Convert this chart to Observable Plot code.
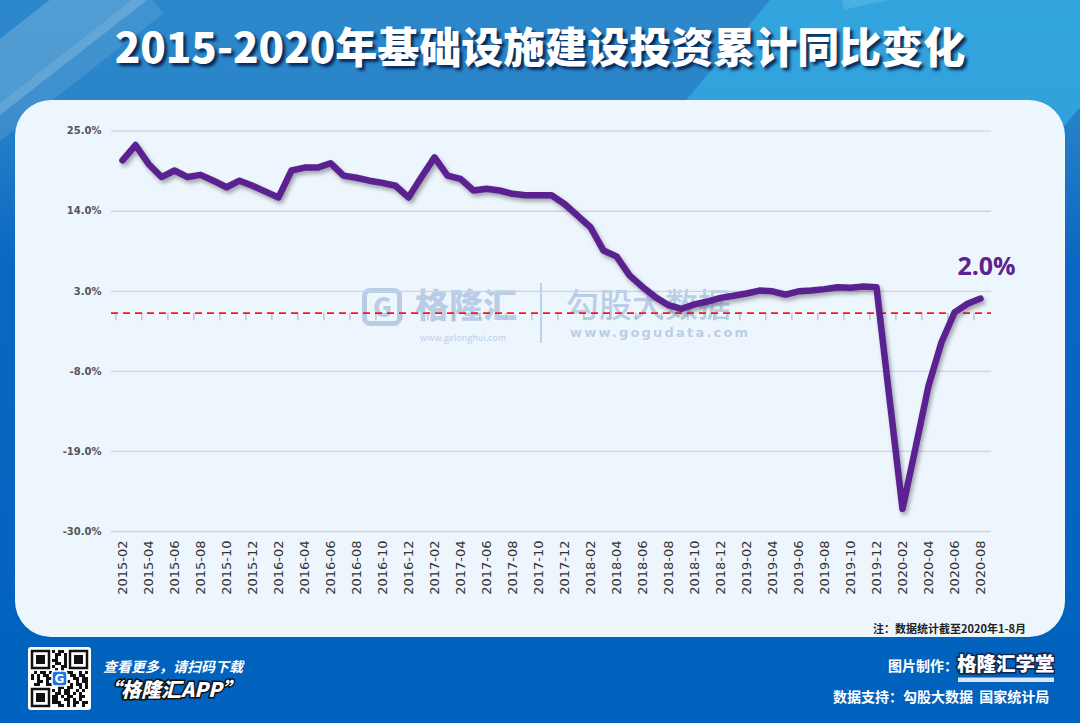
<!DOCTYPE html>
<html><head><meta charset="utf-8">
<script src="https://cdn.jsdelivr.net/npm/d3@7"></script>
<script src="https://cdn.jsdelivr.net/npm/@observablehq/plot@0.6"></script>
<style>
body{margin:0;width:1080px;height:723px;overflow:hidden;font-family:"Noto Sans CJK SC",sans-serif;}
#page{position:relative;width:1080px;height:723px;overflow:hidden;
 background:linear-gradient(to bottom,#2c88cb 0px,#2a84c9 100px,#0b67c1 260px,#0062be 723px);}
.stripe{position:absolute;transform-origin:0 0;}
#title{position:absolute;left:0;top:18px;width:1080px;text-align:center;color:#fff;font-size:42px;font-weight:900;line-height:1.3;
 text-shadow:3px 3px 3px rgba(0,25,70,0.85);}
#panel{position:absolute;left:15px;top:100px;width:1050px;height:537px;border-radius:36px;background:#eef6fd;}
#chart{position:absolute;left:20px;top:110px;}
#chart g[aria-label="line"] path{filter:drop-shadow(2px 3px 2px rgba(60,60,70,0.45));}
.wm{position:absolute;color:rgba(140,172,210,0.55);font-weight:900;white-space:nowrap;line-height:1;}
#note{position:absolute;right:54px;top:620px;font-size:11px;font-weight:bold;color:#222;}
.foot{position:absolute;color:#fff;font-weight:bold;white-space:nowrap;line-height:1.3;}
</style></head>
<body><div id="page">
<div class="stripe" style="left:-40px;top:70px;width:320px;height:60px;background:rgba(255,255,255,0.18);transform:rotate(-38deg);"></div>
<div class="stripe" style="left:-60px;top:150px;width:260px;height:30px;background:rgba(255,255,255,0.10);transform:rotate(-38deg);"></div>
<div class="stripe" style="left:770px;top:0px;width:400px;height:130px;background:rgba(60,200,245,0.45);transform:skewX(-40deg);"></div>
<div class="stripe" style="left:840px;top:-10px;width:300px;height:20px;background:rgba(255,255,255,0.12);transform:rotate(-12deg);"></div>
<div id="title">2015-2020年基础设施建设投资累计同比变化</div>
<div id="panel"></div>
<!-- watermark -->
<div style="position:absolute;left:362px;top:288px;width:40px;height:38px;border:5px solid rgba(140,172,210,0.55);border-radius:8px;box-sizing:border-box;"></div>
<div class="wm" style="left:373px;top:293px;font-size:26px;">G</div>
<div class="wm" style="left:415px;top:287px;font-size:34px;">格隆汇</div>
<div class="wm" style="left:420px;top:333px;font-size:9px;font-weight:normal;">www.gelonghui.com</div>
<div style="position:absolute;left:540px;top:283px;width:1.5px;height:60px;background:rgba(140,172,210,0.5);"></div>
<div class="wm" style="left:566px;top:287px;font-size:33px;font-weight:500;">勾股大数据</div>
<div class="wm" style="left:570px;top:326px;font-size:13px;letter-spacing:2.2px;font-family:'DejaVu Sans';">www.gogudata.com</div>
<div id="chart"></div>
<div id="note">注：数据统计截至2020年1-8月</div>
<!-- footer -->
<div id="qr" style="position:absolute;left:28px;top:647px;width:63px;height:63px;background:#fff;border-radius:3px;"></div>
<div class="foot" style="left:103px;top:657px;font-size:14px;font-style:italic;">查看更多，请扫码下载</div>
<div class="foot" style="left:101px;top:676px;font-size:20px;font-style:italic;font-weight:900;-webkit-text-stroke:3px #111;paint-order:stroke fill;">“格隆汇APP”</div>
<div class="foot" style="left:888px;top:656px;font-size:14px;">图片制作：</div>
<div class="foot" style="left:957px;top:650px;font-size:19.5px;font-weight:900;-webkit-text-stroke:3px #14264e;paint-order:stroke fill;">格隆汇学堂</div>
<div style="position:absolute;left:958px;top:677px;width:96px;height:4px;background:#dfe6ef;border-top:1px solid #8898b0;"></div>
<div class="foot" style="left:833px;top:687px;font-size:14px;">数据支持：勾股大数据&nbsp;&nbsp;国家统计局</div>
</div>
<script>
// ---- data ----
const months = [
 "2015-02","2015-03","2015-04","2015-05","2015-06","2015-07","2015-08","2015-09","2015-10","2015-11","2015-12",
 "2016-01","2016-02","2016-03","2016-04","2016-05","2016-06","2016-07","2016-08","2016-09","2016-10","2016-11","2016-12",
 "2017-01","2017-02","2017-03","2017-04","2017-05","2017-06","2017-07","2017-08","2017-09","2017-10","2017-11","2017-12",
 "2018-01","2018-02","2018-03","2018-04","2018-05","2018-06","2018-07","2018-08","2018-09","2018-10","2018-11","2018-12",
 "2019-01","2019-02","2019-03","2019-04","2019-05","2019-06","2019-07","2019-08","2019-09","2019-10","2019-11","2019-12",
 "2020-01","2020-02","2020-03","2020-04","2020-05","2020-06","2020-07","2020-08"];
const growth = [
 21.0,23.1,20.5,18.7,19.6,18.7,19.0,18.2,17.3,18.2,17.5,
 16.7,15.9,19.6,20.0,20.0,20.6,18.9,18.6,18.2,17.9,17.5,15.9,
 18.7,21.4,18.9,18.45,16.85,17.1,16.85,16.4,16.2,16.2,16.2,15.0,
 13.4,11.8,8.6,7.8,5.2,3.6,2.2,1.1,0.6,1.2,1.6,2.1,
 2.4,2.7,3.1,3.0,2.55,3.0,3.1,3.3,3.55,3.5,3.65,3.55,
 -11.7,-26.9,-18.5,-10.0,-4.0,0.1,1.3,2.0];
const yTicks = [25, 14, 3, -8, -19, -30];
const labelMonths = months.filter((d, i) => i % 2 === 0);
const baseline = [0];

const data = months.map((m, i) => ({month: m, value: growth[i]}));
const W = 1000, ML = 91, MR = 29;
const step = (W - ML - MR) / months.length;

const chart = Plot.plot({
  width: W, height: 510, marginLeft: ML, marginRight: MR, marginTop: 20.7, marginBottom: 89,
  style: {background: "transparent", overflow: "visible"},
  x: {type: "point", domain: months, padding: 0.5, axis: null, label: null},
  y: {domain: [-30, 25], axis: null, label: null},
  marks: [
    Plot.gridY(yTicks, {stroke: "#cfd4db", strokeOpacity: 1, strokeWidth: 1.3}),
    Plot.axisY({ticks: yTicks, tickSize: 0, tickPadding: 10, tickFormat: d => d.toFixed(1) + "%", label: null,
      fontWeight: "bold", fontSize: 10, fontFamily: "DejaVu Sans", color: "#555"}),
    Plot.axisX({ticks: labelMonths, tickSize: 0, tickPadding: 9, tickRotate: -90, label: null,
      fontSize: 13, fontFamily: "DejaVu Sans", color: "#333"}),
    Plot.ruleX(labelMonths, {x: d => d, dx: -step / 2, y1: 0, y2: -1.05, stroke: "#aab0b9"}),
    Plot.ruleY(baseline, {stroke: "#ff1414", strokeWidth: 1.6, strokeDasharray: "7,5"}),
    Plot.line(data, {x: "month", y: "value", stroke: "#5b2191", strokeWidth: 6.5,
      strokeLinejoin: "round", strokeLinecap: "round"}),
    Plot.text(data.slice(-1), {x: "month", y: "value", text: d => d.value.toFixed(1) + "%",
      dy: -32, dx: 6, fontSize: 25, fontWeight: "bold", fill: "#5b2191", fontFamily: "Open Sans"})
  ]
});
document.getElementById("chart").appendChild(chart);

// decorative QR-like box
const qr = d3.select("#qr").append("svg").attr("width", 63).attr("height", 63);
const g = qr.append("g").attr("transform", "translate(3,3)");
[[0,0],[38,0],[0,38]].forEach(([x,y]) => {
  g.append("rect").attr("x", x+1).attr("y", y+1).attr("width", 17).attr("height", 17).attr("fill", "none").attr("stroke", "#111").attr("stroke-width", 2.5);
  g.append("rect").attr("x", x+5).attr("y", y+5).attr("width", 9).attr("height", 9).attr("fill", "#111");
});
const pat = "1011001101010011100101101100110101001011010011011001011010110010100110110101001101011001";
let k = 0;
for (let r = 0; r < 19; r++) for (let c = 0; c < 19; c++) {
  const inFinder = (r < 7 && c < 7) || (r < 7 && c > 11) || (r > 11 && c < 7);
  if (inFinder) continue;
  if (pat[k++ % pat.length] === "1") g.append("rect").attr("x", c*3).attr("y", r*3).attr("width", 3).attr("height", 3).attr("fill", "#111");
}
g.append("rect").attr("x", 21).attr("y", 21).attr("width", 15).attr("height", 15).attr("rx", 3).attr("fill", "#1b74e8").attr("stroke", "#fff").attr("stroke-width", 1.5);
g.append("text").attr("x", 28.5).attr("y", 33).attr("text-anchor", "middle").attr("fill", "#fff").attr("font-size", 12).attr("font-weight", "bold").attr("font-family", "DejaVu Sans").text("G");
</script>
</body></html>
